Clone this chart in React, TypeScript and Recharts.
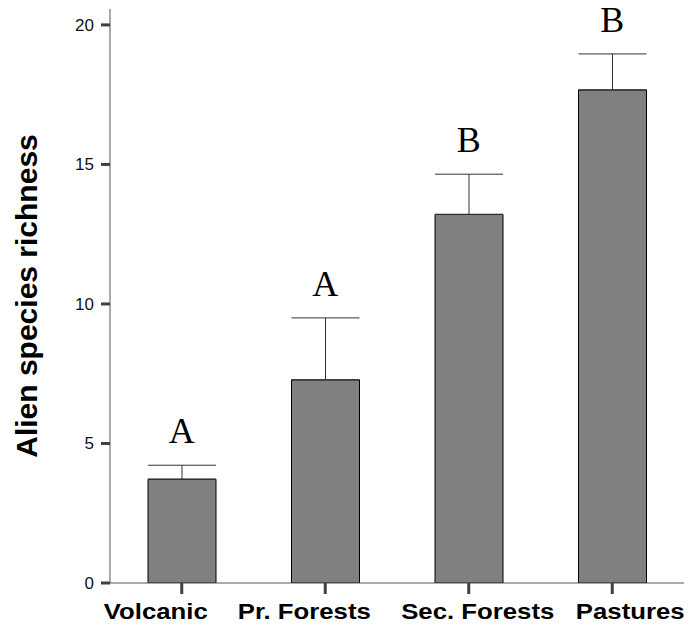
import { ComposedChart, Bar, Line, XAxis, YAxis, ErrorBar, LabelList } from "recharts";

const habitats = ["Volcanic", "Pr. Forests", "Sec. Forests", "Pastures"];
const meanRichness = [3.72, 7.28, 13.21, 17.67];
const upperError = [0.5, 2.22, 1.44, 1.29];
const groupLetters = ["A", "A", "B", "B"];
const yTicks = [0, 5, 10, 15, 20];

const data = habitats.map((name, i) => ({
  name,
  mean: meanRichness[i],
  err: [0, upperError[i]],
  capTop: meanRichness[i] + upperError[i],
  letter: groupLetters[i],
}));

const axisGray = "#555";
const sans = "Liberation Sans, Arial, sans-serif";
// category labels in the original are spread out a bit, not centred on the ticks
const labelShift = [-26, -21, 9, 18];

function CategoryTick(props: any) {
  const { x, y, payload, index } = props;
  const cx = x + (labelShift[index] || 0);
  return (
    <g>
      <rect x={x - 1.5} y={y} width={3} height={11} fill="#404040" />
      <text
        x={0}
        y={0}
        transform={`translate(${cx}, ${y + 36}) scale(1.12, 1)`}
        textAnchor="middle"
        fontSize={23}
        fontWeight="bold"
        fontFamily={sans}
        fill="#000"
      >
        {payload.value}
      </text>
    </g>
  );
}

function ValueTick(props: any) {
  const { x, y, payload } = props;
  return (
    <g>
      <rect x={x - 9} y={y - 1.5} width={9} height={3} fill="#404040" />
      <text
        x={x - 16}
        y={y + 6}
        textAnchor="end"
        fontSize={17}
        fontFamily={sans}
        fill="#111"
      >
        {payload.value}
      </text>
    </g>
  );
}

export default function App() {
  return (
    <div style={{ position: "absolute", left: 0, top: 0, background: "#fff" }}>
      <ComposedChart
        width={691}
        height={628}
        data={data}
        margin={{ top: 9, right: 7, bottom: 0, left: 0 }}
      >
        <XAxis
          dataKey="name"
          height={45}
          interval={0}
          axisLine={{ stroke: axisGray, strokeWidth: 1 }}
          tickLine={false}
          tickSize={0}
          tickMargin={0}
          tick={<CategoryTick />}
        />
        <XAxis
          xAxisId="top"
          dataKey="name"
          orientation="top"
          height={0}
          tick={false}
          tickLine={false}
          axisLine={{ stroke: "#888", strokeWidth: 1 }}
        />
        <YAxis
          width={110}
          domain={[0, 20.57]}
          ticks={yTicks}
          interval={0}
          allowDataOverflow
          axisLine={{ stroke: axisGray, strokeWidth: 1 }}
          tickLine={false}
          tickSize={0}
          tickMargin={0}
          tick={<ValueTick />}
          label={({ viewBox }: any) => {
            const cy = viewBox.y + viewBox.height / 2;
            return (
              <text
                x={26}
                y={cy}
                transform={`rotate(-90, 26, ${cy})`}
                textAnchor="middle"
                dominantBaseline="central"
                fontSize={30}
                fontWeight="bold"
                fontFamily={sans}
                fill="#000"
              >
                Alien species richness
              </text>
            );
          }}
        />
        <YAxis
          yAxisId="right"
          orientation="right"
          width={0}
          domain={[0, 20.57]}
          tick={false}
          tickLine={false}
          axisLine={{ stroke: "#888", strokeWidth: 1 }}
        />
        <Bar
          dataKey="mean"
          barSize={68}
          fill="#808080"
          stroke="#000"
          strokeWidth={1}
          isAnimationActive={false}
        >
          <ErrorBar dataKey="err" direction="y" width={34} stroke="#333" strokeWidth={1} />
        </Bar>
        <Line
          dataKey="capTop"
          stroke="none"
          dot={false}
          activeDot={false}
          isAnimationActive={false}
        >
          <LabelList
            dataKey="letter"
            position="top"
            offset={22}
            fill="#000"
            fontSize={36}
            fontFamily="Liberation Serif, Times New Roman, serif"
          />
        </Line>
      </ComposedChart>
    </div>
  );
}
